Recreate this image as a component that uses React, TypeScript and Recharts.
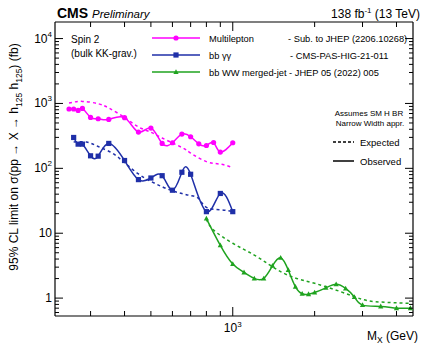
import { Line, LineChart, XAxis, YAxis } from 'recharts'

// Multilepton
const mlMass = [250, 260, 270, 280, 300, 320, 350, 400, 450, 500, 550, 600, 650, 700, 750, 800, 850, 900, 1000]
const mlObs = [821, 821, 781, 839, 609, 581, 567, 603, 362, 418, 242, 248, 337, 307, 239, 225, 250, 178, 248]
const mlExpMass = [250, 280, 320, 350, 400, 450, 500, 550, 650, 700, 800, 900, 1000]
const mlExp = [1016, 1076, 990, 851, 609, 435, 360, 293, 210, 172, 127, 116, 103]

// bb gamma gamma
const bbggMass = [260, 270, 280, 300, 320, 350, 400, 450, 500, 550, 600, 650, 700, 800, 900, 1000]
const bbggObs = [299, 236, 236, 156, 154, 242, 132, 67, 71, 77, 46, 87, 81, 21.5, 41, 21.5]
const bbggExpMass = [260, 290, 320, 360, 400, 450, 500, 550, 600, 650, 700, 750, 800, 900, 1000]
const bbggExp = [254, 254, 217, 172, 122, 82, 63, 52, 45, 41, 38, 34, 25, 23, 21.5]

// bb WW merged-jet
const bbwwMass = [800, 900, 1000, 1100, 1200, 1300, 1400, 1500, 1600, 1700, 1800, 1900, 2000, 2200, 2400, 2600, 2800, 3000, 3500, 4000, 4500]
const bbwwObs = [16.8, 6.5, 3.35, 2.49, 2.01, 2.01, 3.15, 4.19, 2.71, 1.5, 1.165, 1.15, 1.22, 1.44, 1.63, 1.41, 1.04, 0.78, 0.745, 0.7, 0.7]
const bbwwExpMass = [800, 850, 1000, 1200, 1400, 1650, 2000, 2500, 3000, 3500, 4500]
const bbwwExp = [16.4, 11.2, 7.0, 4.6, 3.04, 2.13, 1.69, 1.25, 0.955, 0.87, 0.83]

const xTicks = [300, 400, 500, 600, 700, 800, 900, 1000, 2000, 3000, 4000]
const xMajor: Record<number, string> = { 1000: '3' }
const yDecades = [1, 10, 100, 1000, 10000]
const yLabels: Record<number, [string, string]> = {
  1: ['1', ''],
  10: ['10', ''],
  100: ['10', '2'],
  1000: ['10', '3'],
  10000: ['10', '4'],
}
const yTicks = [0.6, 0.7, 0.8, 0.9, ...yDecades.flatMap((d) => [1, 2, 3, 4, 5, 6, 7, 8, 9].map((k) => k * d))].filter(
  (v) => v <= 10000,
)

const MAGENTA = '#ff00ff'
const BLUE = '#1f2fa8'
const GREEN = '#1fa31f'
const FONT = '"Liberation Sans", Arial, Helvetica, sans-serif'

const pts = (m: number[], v: number[]) => m.map((x, i) => ({ m: x, v: v[i] }))

function XTick(props: any) {
  const { x, y, payload, side } = props
  const major = xMajor[payload.value] !== undefined
  const len = major ? 9 : 5
  const dir = side === 'bottom' ? -1 : 1
  return (
    <g>
      <line x1={x} y1={y} x2={x} y2={y + dir * len} stroke="#000" strokeWidth={1} />
      {side === 'bottom' && major && (
        <text x={x} y={y + 16} textAnchor="middle" fontSize={12} fontFamily={FONT} fill="#000">
          10
          <tspan dy={-5} fontSize={8}>
            {xMajor[payload.value]}
          </tspan>
        </text>
      )}
    </g>
  )
}

function YTick(props: any) {
  const { x, y, payload, side } = props
  const lab = yLabels[payload.value]
  const len = lab ? 8 : 4
  const dir = side === 'left' ? 1 : -1
  return (
    <g>
      <line x1={x} y1={y} x2={x + dir * len} y2={y} stroke="#000" strokeWidth={1} />
      {side === 'left' && lab && (
        <text x={x - 3} y={y + 4} textAnchor="end" fontSize={12} fontFamily={FONT} fill="#000">
          {lab[0]}
          {lab[1] && (
            <tspan dy={-6} fontSize={8}>
              {lab[1]}
            </tspan>
          )}
        </text>
      )}
    </g>
  )
}

function Marker({ kind, cx, cy, color }: { kind: string; cx: number; cy: number; color: string }) {
  if (kind === 'circle') return <circle cx={cx} cy={cy} r={2.6} fill={color} />
  if (kind === 'square') return <rect x={cx - 2.6} y={cy - 2.6} width={5.2} height={5.2} fill={color} />
  return <polygon points={`${cx},${cy - 2.8} ${cx - 2.6},${cy + 2} ${cx + 2.6},${cy + 2}`} fill={color} />
}

const dotFor = (kind: string, color: string) => (p: any) => (
  <Marker key={`${kind}-${p.index}`} kind={kind} cx={p.cx} cy={p.cy} color={color} />
)

const legendRows = [
  { name: 'Multilepton', ref: '- Sub. to JHEP (2206.10268)', refX: 288, color: MAGENTA, kind: 'circle', y: 38 },
  { name: 'bb γγ', ref: '- CMS-PAS-HIG-21-011', refX: 290, color: BLUE, kind: 'square', y: 55 },
  { name: 'bb WW merged-jet - JHEP 05 (2022) 005', ref: '', refX: 0, color: GREEN, kind: 'triangle', y: 72 },
]

const xAxisCommon = {
  type: 'number' as const,
  dataKey: 'm',
  scale: 'log' as const,
  domain: [222, 4600],
  allowDataOverflow: true,
  ticks: xTicks,
  interval: 0,
  tickSize: 0,
  tickMargin: 0,
  tickLine: false,
  axisLine: { stroke: '#000', strokeWidth: 1.2 },
}

const yAxisCommon = {
  type: 'number' as const,
  scale: 'log' as const,
  domain: [0.53, 18000],
  allowDataOverflow: true,
  ticks: yTicks,
  interval: 0,
  tickSize: 0,
  tickMargin: 0,
  tickLine: false,
  axisLine: { stroke: '#000', strokeWidth: 1.2 },
}

export default function App() {
  return (
    <div style={{ position: 'absolute', left: 0, top: 0, width: 423, height: 345, background: '#fff' }}>
      <LineChart width={423} height={345} margin={{ top: 20, right: 8, bottom: 9, left: 15 }}>
        <XAxis xAxisId="b" {...xAxisCommon} height={20} tick={(p: any) => <XTick {...p} side="bottom" />} />
        <XAxis xAxisId="t" orientation="top" {...xAxisCommon} height={2} tick={(p: any) => <XTick {...p} side="top" />} />
        <YAxis yAxisId="l" {...yAxisCommon} width={40} tick={(p: any) => <YTick {...p} side="left" />} />
        <YAxis yAxisId="r" orientation="right" {...yAxisCommon} width={2} tick={(p: any) => <YTick {...p} side="right" />} />

        <Line xAxisId="b" yAxisId="l" data={pts(mlExpMass, mlExp)} dataKey="v" type="natural" stroke={MAGENTA} strokeWidth={1.5} strokeDasharray="3 3" dot={false} isAnimationActive={false} />
        <Line xAxisId="b" yAxisId="l" data={pts(bbggExpMass, bbggExp)} dataKey="v" type="natural" stroke={BLUE} strokeWidth={1.5} strokeDasharray="3 3" dot={false} isAnimationActive={false} />
        <Line xAxisId="b" yAxisId="l" data={pts(bbwwExpMass, bbwwExp)} dataKey="v" type="natural" stroke={GREEN} strokeWidth={1.5} strokeDasharray="3 3" dot={false} isAnimationActive={false} />

        <Line xAxisId="b" yAxisId="l" data={pts(mlMass, mlObs)} dataKey="v" type="natural" stroke={MAGENTA} strokeWidth={1.5} dot={dotFor('circle', MAGENTA)} isAnimationActive={false} />
        <Line xAxisId="b" yAxisId="l" data={pts(bbggMass, bbggObs)} dataKey="v" type="natural" stroke={BLUE} strokeWidth={1.5} dot={dotFor('square', BLUE)} isAnimationActive={false} />
        <Line xAxisId="b" yAxisId="l" data={pts(bbwwMass, bbwwObs)} dataKey="v" type="natural" stroke={GREEN} strokeWidth={1.5} dot={dotFor('triangle', GREEN)} isAnimationActive={false} />
      </LineChart>

      <svg width={423} height={345} style={{ position: 'absolute', left: 0, top: 0, pointerEvents: 'none' }} fontFamily={FONT}>
        <text x={57} y={18} fontSize={14} fontWeight="bold" fill="#000">
          CMS
        </text>
        <text x={92} y={18} fontSize={11.5} fontStyle="italic" fill="#000">
          Preliminary
        </text>
        <text x={420} y={18} fontSize={12} textAnchor="end" fill="#000">
          138 fb
          <tspan dy={-5} fontSize={8}>
            -1
          </tspan>
          <tspan dy={5}> (13 TeV)</tspan>
        </text>

        <text x={71} y={42.5} fontSize={10} fill="#000">
          Spin 2
        </text>
        <text x={71} y={56.5} fontSize={10} fill="#000">
          (bulk KK-grav.)
        </text>

        {legendRows.map((r) => (
          <g key={r.name}>
            <line x1={152} y1={r.y} x2={200} y2={r.y} stroke={r.color} strokeWidth={1.5} />
            <Marker kind={r.kind} cx={176} cy={r.y} color={r.color} />
            <text x={209} y={r.y + 3.5} fontSize={9.3} fill="#000">
              {r.name}
            </text>
            {r.ref && (
              <text x={r.refX} y={r.y + 3.5} fontSize={9.3} fill="#000">
                {r.ref}
              </text>
            )}
          </g>
        ))}

        <text x={369} y={116} fontSize={8} textAnchor="middle" fill="#000">
          Assumes SM H BR
        </text>
        <text x={370} y={125.5} fontSize={8} textAnchor="middle" fill="#000">
          Narrow Width appr.
        </text>
        <line x1={333} y1={142} x2={354} y2={142} stroke="#000" strokeWidth={1.3} strokeDasharray="3 2" />
        <text x={360} y={145.5} fontSize={9.5} fill="#000">
          Expected
        </text>
        <line x1={333} y1={161} x2={354} y2={161} stroke="#000" strokeWidth={1.5} />
        <text x={360} y={164.5} fontSize={9.5} fill="#000">
          Observed
        </text>

        <text transform="translate(18,157) rotate(-90)" fontSize={12} textAnchor="middle" fill="#000">
          95% CL limit on σ(pp → X → h
          <tspan dy={3.5} fontSize={8.5}>
            125
          </tspan>
          <tspan dy={-3.5}> h</tspan>
          <tspan dy={3.5} fontSize={8.5}>
            125
          </tspan>
          <tspan dy={-3.5}>) (fb)</tspan>
        </text>

        <text x={418} y={340} fontSize={12} textAnchor="end" fill="#000">
          M
          <tspan dy={3} fontSize={8.5}>
            X
          </tspan>
          <tspan dy={-3}> (GeV)</tspan>
        </text>
      </svg>
    </div>
  )
}
